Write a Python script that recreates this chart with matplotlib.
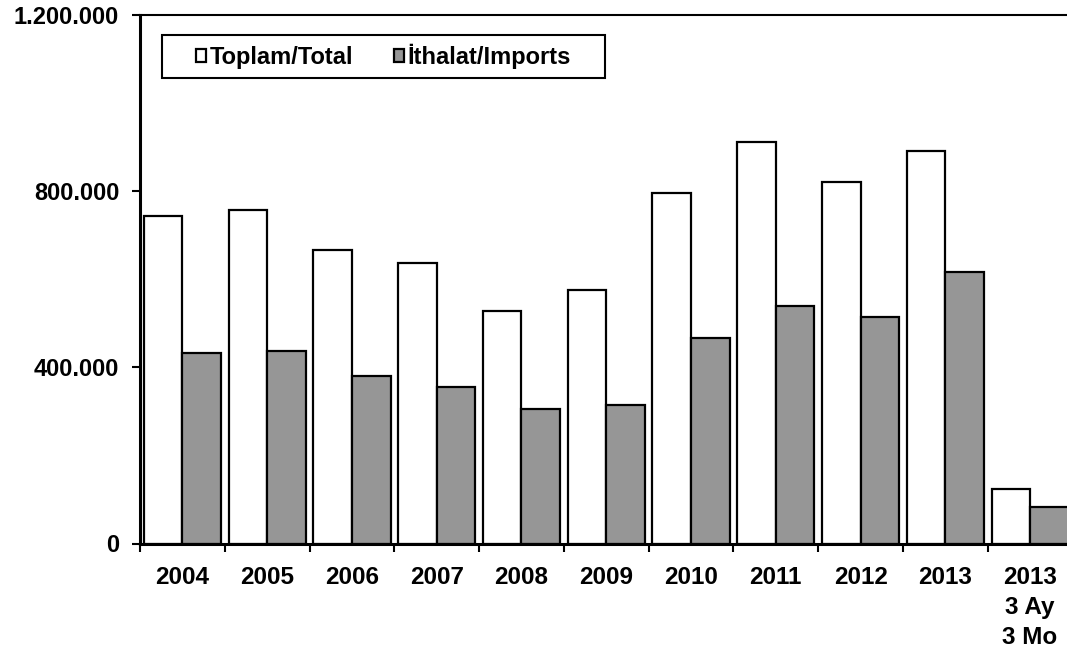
import matplotlib.pyplot as plt
from matplotlib.patches import Rectangle
from matplotlib.ticker import FuncFormatter
import numpy as np

plt.rcParams['font.family'] = ['Liberation Sans', 'DejaVu Sans']
plt.rcParams['font.weight'] = 'bold'

categories = ["2004", "2005", "2006", "2007", "2008", "2009", "2010",
              "2011", "2012", "2013", "2013\n3 Ay\n3 Mo"]
total = [744000, 757000, 666000, 636000, 528000, 574000, 794000,
         911000, 820000, 890000, 124000]
imports = [432000, 436000, 380000, 356000, 304000, 314000, 467000,
           539000, 513000, 615000, 82000]
yticks = [0, 400000, 800000, 1200000]

fig = plt.figure(figsize=(10.67, 6.49), dpi=100)
ax = fig.add_axes([140 / 1067, 1 - 543.5 / 649, 932.5 / 1067, 529 / 649])

x = np.arange(len(categories))
w = 0.455
ax.bar(x - w / 2, total, w, color='white', edgecolor='black', linewidth=1.6,
       label='Toplam/Total')
ax.bar(x + w / 2, imports, w, color='#969696', edgecolor='black', linewidth=1.6,
       label='İthalat/Imports')

ax.set_xlim(-0.5, len(categories) - 0.5)
ax.set_ylim(0, 1200000)

ax.set_yticks(yticks)
ax.yaxis.set_major_formatter(FuncFormatter(lambda v, p: f"{int(v):,}".replace(",", ".")))
ax.tick_params(axis='y', direction='out', length=6, width=1.5, pad=9, labelsize=17)

ax.set_xticks(x)
ax.set_xticklabels(categories, linespacing=1.4)
ax.tick_params(axis='x', which='major', length=0, pad=16, labelsize=17.5)
ax.set_xticks(np.arange(-0.5, len(categories) - 0.5, 1), minor=True)
ax.tick_params(axis='x', which='minor', direction='out', length=6, width=1.5)

for s in ['left', 'bottom']:
    ax.spines[s].set_linewidth(2.2)
ax.spines['top'].set_linewidth(1.5)
ax.spines['right'].set_visible(False)

# legend box (wide frame with the entries centred in it)
bx, by, bw, bh = 22 / 932.5, (543.5 - 78) / 529, 443 / 932.5, 43 / 529
ax.add_patch(Rectangle((bx, by), bw, bh, transform=ax.transAxes, facecolor='white',
                       edgecolor='black', linewidth=1.5, zorder=5))
leg = ax.legend(loc='center', bbox_to_anchor=(bx + bw / 2, by + bh / 2),
                ncol=2, fontsize=17, frameon=False,
                handlelength=0.45, handleheight=0.45, handletextpad=0.15,
                columnspacing=1.7, borderpad=0, borderaxespad=0)
leg.set_zorder(6)
for t in leg.get_texts():
    t.set_fontweight('bold')

fig.savefig('out.png', dpi=100)
